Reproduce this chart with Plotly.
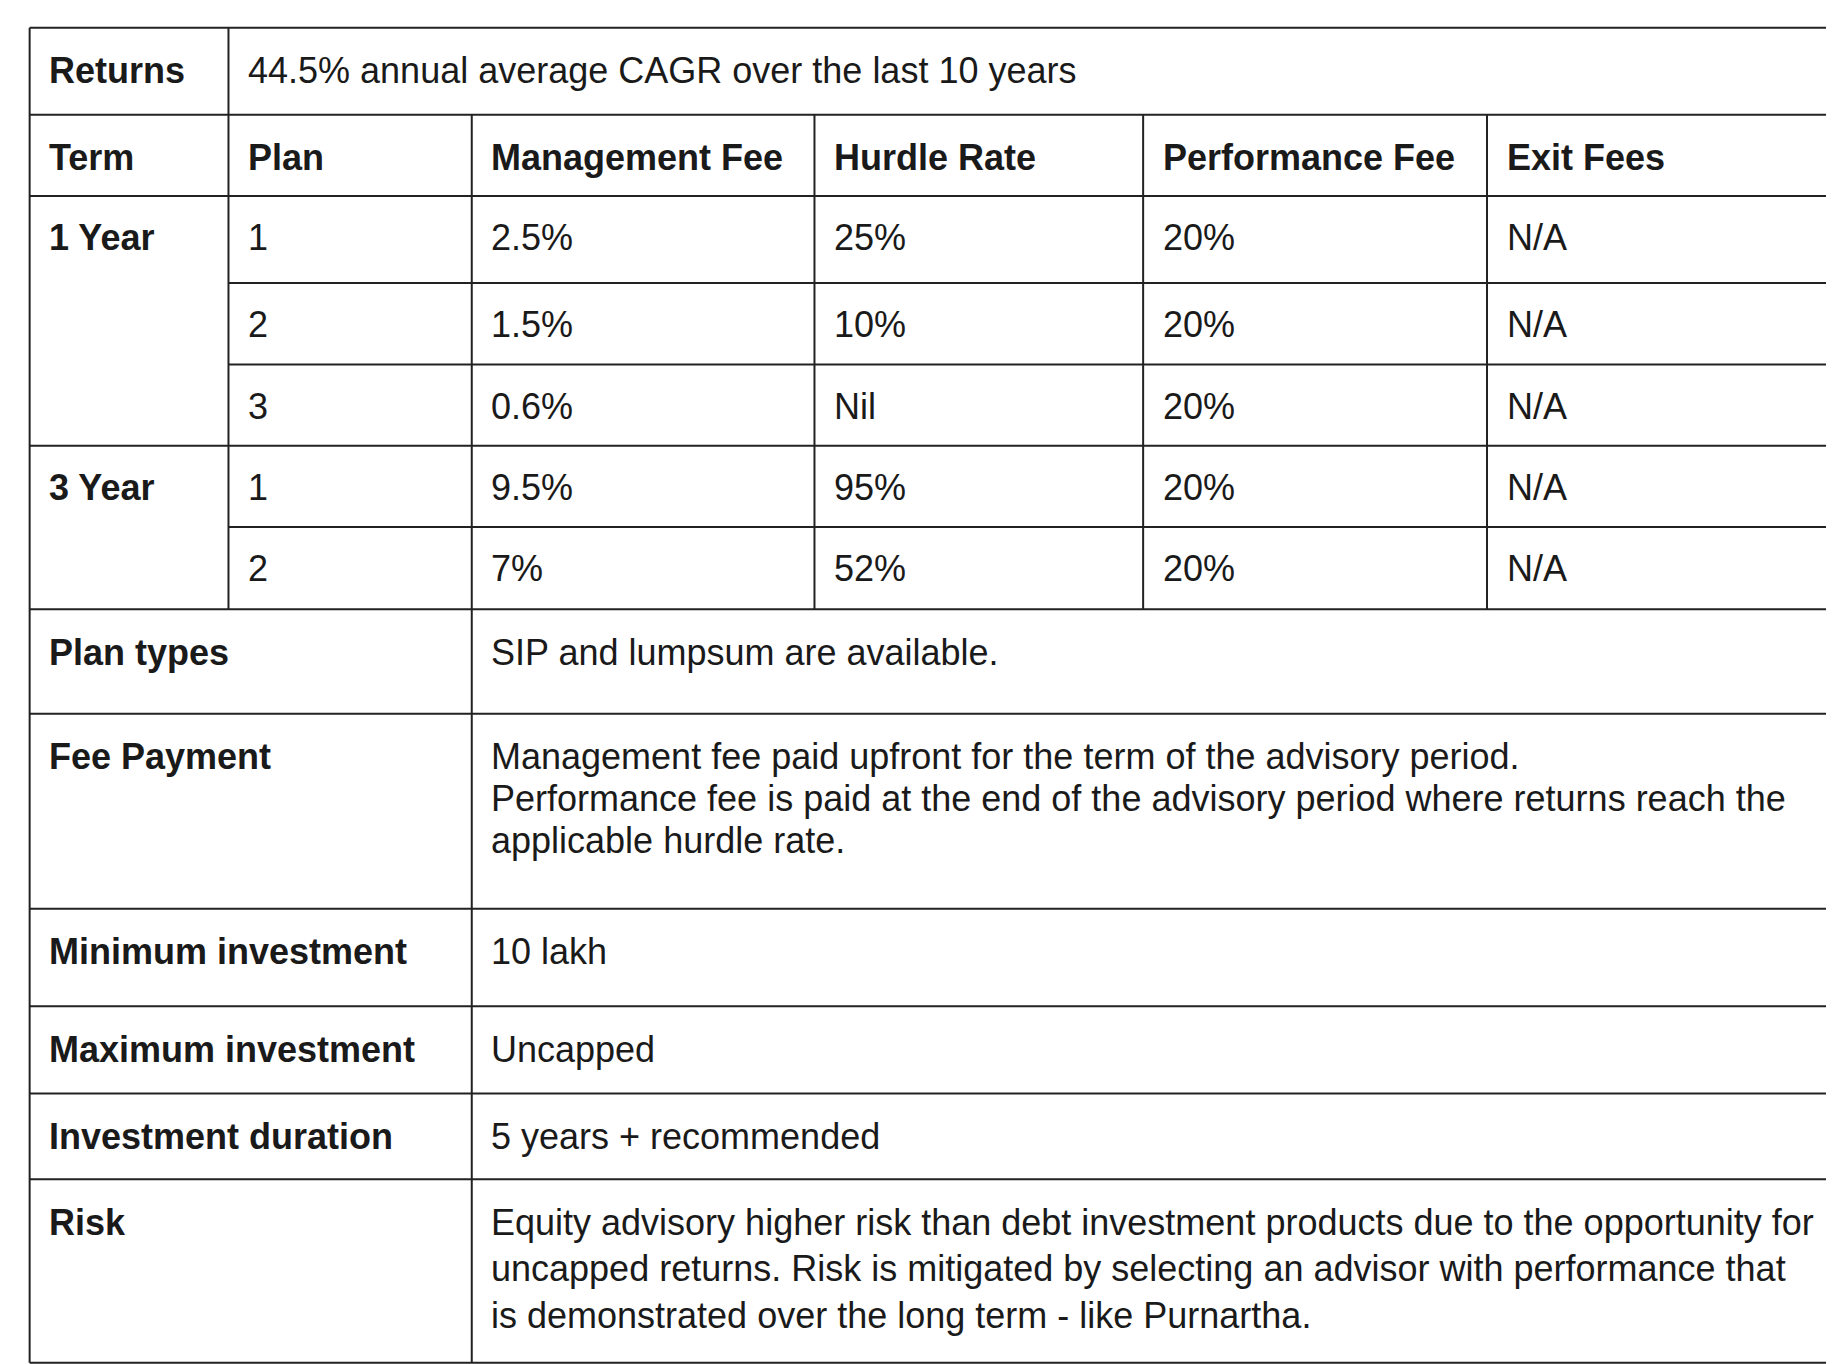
import plotly.graph_objects as go

cols = [12, 182, 390, 683, 964, 1258, 1554]
rows = [10, 85, 155, 230, 300, 370, 440, 511, 601, 769, 853, 928, 1002, 1160]

header = ["Term", "Plan", "Management Fee", "Hurdle Rate", "Performance Fee", "Exit Fees"]
terms = ["1 Year", "", "", "3 Year", ""]
plans = ["1", "2", "3", "1", "2"]
mgmt = ["2.5%", "1.5%", "0.6%", "9.5%", "7%"]
hurdle = ["25%", "10%", "Nil", "95%", "52%"]
perf = ["20%", "20%", "20%", "20%", "20%"]
exitf = ["N/A", "N/A", "N/A", "N/A", "N/A"]

labels = ["Plan types", "Fee Payment", "Minimum investment", "Maximum investment",
          "Investment duration", "Risk"]
values = [
    ["SIP and lumpsum are available."],
    ["Management fee paid upfront for the term of the advisory period.",
     "Performance fee is paid at the end of the advisory period where returns reach the",
     "applicable hurdle rate."],
    ["10 lakh"],
    ["Uncapped"],
    ["5 years + recommended"],
    ["Equity advisory higher risk than debt investment products due to the opportunity for",
     "uncapped returns. Risk is mitigated by selecting an advisor with performance that",
     "is demonstrated over the long term - like Purnartha."],
]

fig = go.Figure()
lc = dict(color="#222", width=2)
shapes = []
def L(x0, y0, x1, y1):
    shapes.append(dict(type="line", x0=x0, y0=y0, x1=x1, y1=y1, xref="x", yref="y", line=lc))

for y in rows:
    if y in (230, 300, 440):
        L(cols[1], y, cols[-1], y)
    else:
        L(cols[0], y, cols[-1], y)
L(cols[0], rows[0], cols[0], rows[-1])
L(cols[-1], rows[0], cols[-1], rows[-1])
L(cols[1], rows[0], cols[1], rows[7])
L(cols[2], rows[1], cols[2], rows[-1])
for c in cols[3:6]:
    L(c, rows[1], c, rows[7])

ann = []
FS = 36
def T(x, y, s, bold=False):
    ann.append(dict(x=x + 15, y=y, xref="x", yref="y", text=("<b>%s</b>" % s) if bold else s,
                    showarrow=False, xanchor="left", yanchor="middle",
                    font=dict(family="Liberation Sans, Arial", size=FS, color="#1a1a1a")))

T(cols[0], 47, "Returns", True)
T(cols[1], 47, "44.5% annual average CAGR over the last 10 years")
for j, h in enumerate(header):
    T(cols[j], 122, h, True)
for i in range(5):
    yc = rows[2 + i] + 36
    if terms[i]:
        T(cols[0], yc, terms[i], True)
    for j, v in enumerate([plans[i], mgmt[i], hurdle[i], perf[i], exitf[i]]):
        T(cols[1 + j], yc, v)
lines_gap = [36, 36, 36, 36, 36, 40]
for k, lab in enumerate(labels):
    y0 = rows[7 + k] + 37
    T(cols[0], y0, lab, True)
    for m, txt in enumerate(values[k]):
        T(cols[2], y0 + m * lines_gap[k], txt)

fig.update_layout(
    width=1834, height=1364, margin=dict(l=0, r=0, t=0, b=0),
    paper_bgcolor="white", plot_bgcolor="white",
    xaxis=dict(range=[-6.5, 1561.5], visible=False, fixedrange=True),
    yaxis=dict(range=[1168, -7], visible=False, fixedrange=True),
    shapes=shapes, annotations=ann, showlegend=False,
)
fig.write_html("out.html")
